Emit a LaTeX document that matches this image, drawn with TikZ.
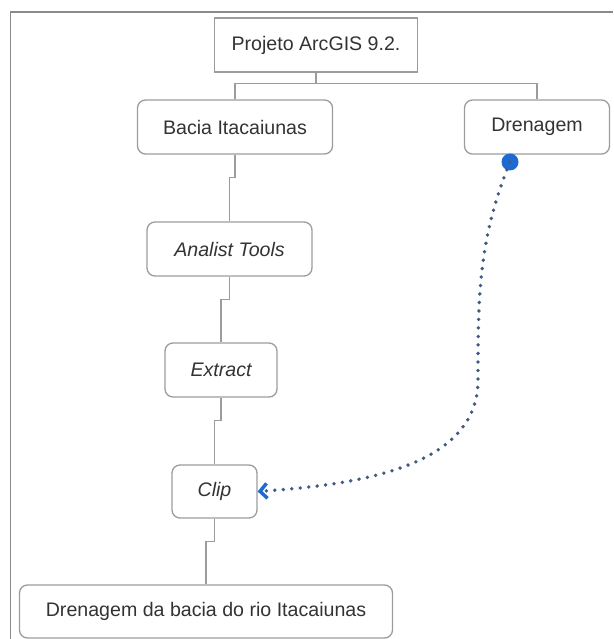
\documentclass[tikz,border=0pt]{standalone}
\usepackage{fontspec}
\setmainfont{Liberation Sans}
\usetikzlibrary{arrows.meta}

\definecolor{boxgray}{HTML}{9C9C9C}
\definecolor{framegray}{HTML}{8A8A8A}
\definecolor{txtgray}{HTML}{333333}
\definecolor{flowblue}{HTML}{1E6AD2}
\definecolor{dotslate}{HTML}{3E5C82}

\tikzset{
  box/.style={draw=boxgray, line width=1.3pt, rounded corners=8pt,
    minimum height=54pt, inner sep=0pt, text=txtgray,
    font=\fontsize{19.6}{23}\selectfont},
  tool/.style={box, font=\fontsize{19.6}{23}\selectfont\itshape},
  link/.style={draw=boxgray, line width=1.3pt},
  flow/.style={dotslate, line width=3.8pt, line cap=round,
    dash pattern=on 0pt off 8.5pt,
    -{Straight Barb[length=7pt,width=15pt,line width=3.5pt,flowblue]}},
}

\begin{document}
\begin{tikzpicture}[x=1pt,y=-1pt]
  \useasboundingbox (0,0) rectangle (613,639);
  % page frame (only top and left edges show)
  \draw[framegray, line width=1.2pt] (10.5,639) -- (10.5,12) -- (613,12);

  \node[box, sharp corners, minimum width=203pt] (proj) at (316,45) {Projeto ArcGIS 9.2.};
  \node[box, minimum width=195pt] (bacia) at (235,127) {Bacia Itacaiunas};
  \node[box, minimum width=145pt] (dren) at (537,127) {Drenagem};
  \node[tool, minimum width=165pt] (analist) at (229.5,249) {Analist Tools};
  \node[tool, minimum width=112pt] (extract) at (221,370) {Extract};
  \node[tool, minimum width=85pt, minimum height=53pt] (clip) at (214.5,491.5) {Clip};
  \node[box, minimum width=373pt, minimum height=53pt] (final) at (206,611.5) {Drenagem da bacia do rio Itacaiunas};

  % tree from the project
  \draw[link] (proj.south) -- ++(0,11) coordinate (fork);
  \draw[link] (bacia.north) |- (fork) -| (dren.north);

  % processing chain, each link with a small jog
  \foreach \a/\b in {bacia/analist, analist/extract, extract/clip, clip/final}
    \draw[link] (\a.south) -- ++(0,23) -| (\b.north);

  % drainage layer fed into the clip
  \coordinate (src) at (510,162);
  \fill[flowblue] (src) circle (8.5pt);
  \draw[flow] (src) .. controls (478,240) and (478,300) .. (478,380)
    .. controls (478,470) and (350,485) .. (clip.east);
\end{tikzpicture}
\end{document}
